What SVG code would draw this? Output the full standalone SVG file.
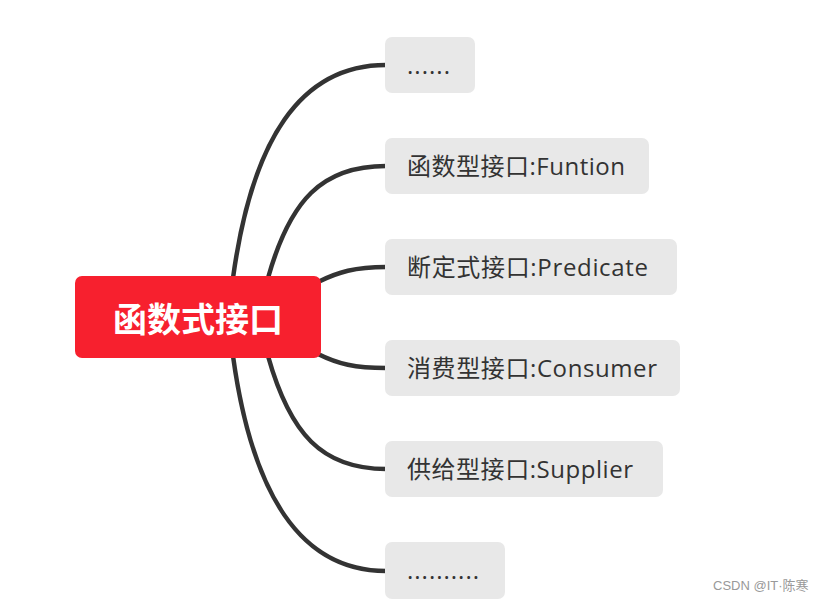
<svg xmlns="http://www.w3.org/2000/svg" width="829" height="604" viewBox="0 0 829 604">
<style>
.conn{fill:none;stroke:#333333;stroke-width:4.5;stroke-linecap:round}
.box{fill:#e8e8e8}
.lbl{font-family:"Open Sans","Noto Sans CJK SC",sans-serif;font-size:24px;fill:#333333}
.root{fill:#f7202e}
.rootlbl{font-family:"Noto Sans CJK SC",sans-serif;font-size:34px;font-weight:bold;fill:#ffffff}
.wm{font-family:"Liberation Sans","Noto Sans CJK SC",sans-serif;font-size:13px;fill:#999999}
</style>
<rect width="829" height="604" fill="#ffffff"/>
<g id="connectors">
<path class="conn" d="M233,278 C252,140 300,65 386,65"/>
<path class="conn" d="M268,278 C290,200 322,166 386,166"/>
<path class="conn" d="M318,282 C338,272 355,267 386,267"/>
<path class="conn" d="M318,354 C338,364 355,368 386,368"/>
<path class="conn" d="M268,356 C290,434 322,469 386,469"/>
<path class="conn" d="M233,356 C252,494 300,571 386,571"/>
</g>
<g id="root">
<rect class="root" x="75" y="276" width="246" height="82" rx="7"/>
<text class="rootlbl" x="198" y="332" text-anchor="middle">函数式接口</text>
</g>
<g id="n1">
<rect class="box" x="385" y="37" width="90" height="56" rx="7"/>
<text class="lbl" x="407" y="74" textLength="43">......</text>
</g>
<g id="n2">
<rect class="box" x="385" y="138" width="264" height="56" rx="7"/>
<text class="lbl" x="407" y="175" textLength="218">函数型接口:Funtion</text>
</g>
<g id="n3">
<rect class="box" x="385" y="239" width="292" height="56" rx="7"/>
<text class="lbl" x="407" y="276" textLength="241">断定式接口:Predicate</text>
</g>
<g id="n4">
<rect class="box" x="385" y="340" width="295" height="56" rx="7"/>
<text class="lbl" x="407" y="377" textLength="250">消费型接口:Consumer</text>
</g>
<g id="n5">
<rect class="box" x="385" y="441" width="278" height="56" rx="7"/>
<text class="lbl" x="407" y="478" textLength="226">供给型接口:Supplier</text>
</g>
<g id="n6">
<rect class="box" x="385" y="542" width="120" height="57" rx="7"/>
<text class="lbl" x="407" y="579" textLength="72">..........</text>
</g>
<text class="wm" x="713" y="590">CSDN @IT·陈寒</text>
</svg>
